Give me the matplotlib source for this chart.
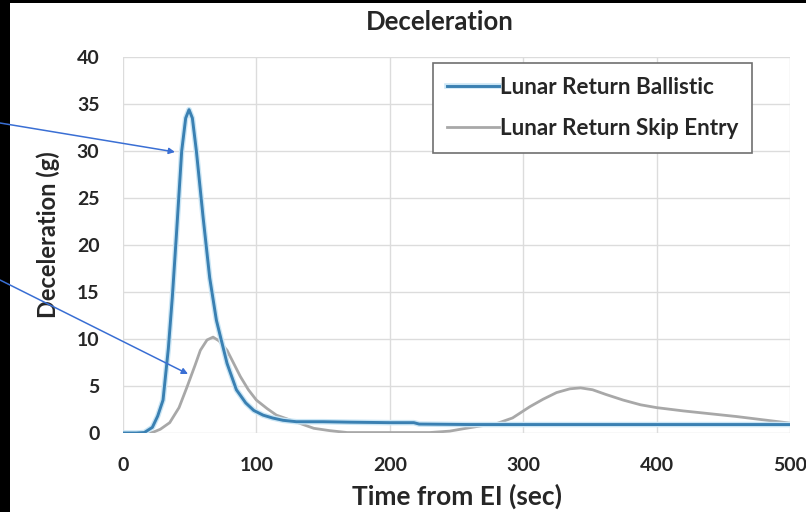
import matplotlib
matplotlib.use("Agg")
import matplotlib.pyplot as plt
from matplotlib.patches import Rectangle, FancyArrowPatch
import matplotlib.patheffects as pe

plt.rcParams['font.family'] = ['Lato', 'DejaVu Sans']

# Data
t_ballistic = [0, 10, 16, 22, 26, 30, 34, 37, 40, 44, 47, 49.5, 52, 55, 60, 65, 70, 78, 85,
               92, 98, 105, 112, 120, 130, 150, 170, 200, 218, 222, 260, 300, 400, 500]
g_ballistic = [0, 0, 0.05, 0.6, 1.8, 3.5, 9, 14.5, 21, 30, 33.5, 34.4, 33.5, 30, 23, 16.5, 12,
               7.4, 4.6, 3.2, 2.4, 1.9, 1.6, 1.35, 1.2, 1.2, 1.15, 1.1, 1.1, 0.95, 0.9, 0.9, 0.9, 0.9]

t_skip = [0, 15, 22, 28, 35, 42, 48, 54, 58, 63, 67.5, 72, 78, 83, 88, 94, 100, 108, 115, 122,
          130, 143, 155, 168, 200, 230, 245, 255, 268, 280, 292, 305, 315, 325, 335, 343, 352,
          362, 375, 388, 400, 420, 440, 460, 480, 500]
g_skip = [0, 0, 0.05, 0.4, 1.1, 2.7, 4.9, 7.2, 8.8, 9.9, 10.2, 9.8, 8.8, 7.4, 6.0, 4.6, 3.5, 2.6,
          1.9, 1.55, 1.15, 0.5, 0.25, 0.05, 0.05, 0.05, 0.2, 0.45, 0.75, 1.0, 1.6, 2.8, 3.6, 4.3,
          4.7, 4.8, 4.6, 4.1, 3.5, 3.0, 2.7, 2.35, 2.05, 1.75, 1.4, 1.05]

series_names = ["Lunar Return Ballistic", "Lunar Return Skip Entry"]
x_ticks = [0, 100, 200, 300, 400, 500]
y_ticks = [0, 5, 10, 15, 20, 25, 30, 35, 40]

W, H = 806, 512
fig = plt.figure(figsize=(W / 100, H / 100), dpi=100, facecolor='black')
fig.patches.append(Rectangle((10 / W, 0), (W - 10) / W, (H - 3) / H,
                             transform=fig.transFigure, facecolor='white', edgecolor='none',
                             zorder=-10))

ax = fig.add_axes([123 / W, (H - 433) / H, (790 - 123) / W, (433 - 57) / H])
ax.set_facecolor('white')

ax.plot(t_ballistic, g_ballistic, color='#3a80b2', lw=2.1, label=series_names[0], zorder=4,
        path_effects=[pe.Stroke(linewidth=4.0, foreground='#cbe6f5'), pe.Normal()])
ax.plot(t_skip, g_skip, color='#a8a8a8', lw=2.0, label=series_names[1], zorder=3)

ax.set_xlim(0, 500)
ax.set_ylim(0, 40)
ax.set_xticks(x_ticks)
ax.set_yticks(y_ticks)
ax.grid(True, color='#dcdcdc', lw=1)
ax.set_axisbelow(True)
for s in ax.spines.values():
    s.set_visible(False)
ax.tick_params(length=0, labelsize=14, colors='#262626')
ax.tick_params(axis='x', pad=17)
ax.tick_params(axis='y', pad=17)
for lab in ax.get_xticklabels() + ax.get_yticklabels():
    lab.set_fontweight('bold')

fig.text(440 / W, 1 - 22 / H, "Deceleration", fontsize=18.5, fontweight='bold',
         color='#262626', ha='center', va='center')
ax.set_xlabel("Time from EI (sec)", fontsize=19, fontweight='bold', color='#262626', labelpad=7)
ax.set_ylabel("Deceleration (g)", fontsize=17, fontweight='bold', color='#262626', labelpad=12,
              y=0.527)

leg = ax.legend(loc='upper left', bbox_to_anchor=((433 - 123) / (790 - 123), (433 - 63) / (433 - 57)),
                borderaxespad=0, frameon=True, fancybox=False, edgecolor='#707070', framealpha=1,
                prop={'weight': 'bold', 'size': 16.2}, handlelength=2.35, handletextpad=0.05,
                labelspacing=0.92, borderpad=0.6)
leg.get_frame().set_linewidth(1.2)
for t in leg.get_texts():
    t.set_color('#262626')

arrow_kw = dict(arrowstyle='-|>', color='#3a6fd4', lw=1.1, mutation_scale=9,
                shrinkA=0, shrinkB=0)
fig.add_artist(FancyArrowPatch((0, H - 123), (175, H - 152), transform=None, zorder=10, **arrow_kw))
fig.add_artist(FancyArrowPatch((0, H - 280), (188, H - 374), transform=None, zorder=10, **arrow_kw))

fig.savefig("out.png", dpi=100, facecolor=fig.get_facecolor())
